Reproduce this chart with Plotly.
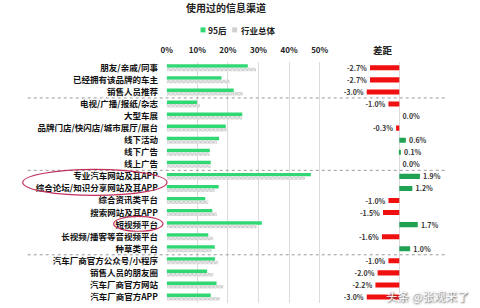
import plotly.graph_objects as go

categories = ["朋友/亲戚/同事", "已经拥有该品牌的车主", "销售人员推荐", "电视/广播/报纸/杂志",
              "大型车展", "品牌门店/快闪店/城市展厅/展台", "线下活动", "线下广告", "线上广告",
              "专业汽车网站及其APP", "综合论坛/知识分享网站及其APP", "综合资讯类平台",
              "搜索网站及其APP", "短视频平台", "长视频/播客等音视频平台", "种草类平台",
              "汽车厂商官方公众号/小程序", "销售人员的朋友圈", "汽车厂商官方网站", "汽车厂商官方APP"]
gen95 = [26.5, 17.9, 21.9, 9.9, 24.7, 19.3, 17.1, 14.1, 14.4, 47.1,
         17.0, 12.6, 14.9, 31.1, 13.6, 15.7, 15.8, 13.2, 16.3, 14.4]
overall = [29.2, 20.6, 24.9, 10.9, 24.7, 19.6, 16.5, 14.0, 14.4, 45.2,
           15.8, 13.6, 16.4, 29.4, 15.2, 14.7, 16.8, 15.2, 18.5, 17.4]
diff = [-2.7, -2.7, -3.0, -1.0, 0.0, -0.3, 0.6, 0.1, 0.0, 1.9,
        1.2, -1.0, -1.5, 1.7, -1.6, 1.0, -1.0, -2.0, -2.2, -3.0]
xticks = [0, 10, 20, 30, 40, 50]
separators = [2.5, 8.5, 15.5]
series_names = ["95后", "行业总体"]

W, H = 480, 308
FONT = "Noto Sans CJK SC"
rows = list(range(len(categories)))
GREEN = "#2fd873"
PAD = "\u00a0\u00a0"

def px(x):
    return x / W

def py(y):
    return 1 - y / H

fig = go.Figure()
fig.add_trace(go.Bar(
    y=rows, x=gen95, orientation="h", name=series_names[0], showlegend=False,
    marker=dict(color=GREEN, line=dict(width=0)),
    xaxis="x", yaxis="y"))
fig.add_trace(go.Bar(
    y=rows, x=overall, orientation="h", name=series_names[1], showlegend=False,
    marker=dict(color="#d4d4d4", line=dict(width=0),
                pattern=dict(shape="x", size=3, solidity=0.4, fgcolor="#9a9a9a", bgcolor="#e6e6e6")),
    xaxis="x", yaxis="y"))
fig.add_trace(go.Bar(
    y=rows, x=diff, orientation="h", showlegend=False, width=0.42,
    marker=dict(color=["#1fa352" if d > 0 else "#f01010" for d in diff], line=dict(width=0)),
    texttemplate=[("%{x:.1f}%" + PAD) if d < 0 else (PAD + "%{x:.1f}%") for d in diff],
    textposition="outside", cliponaxis=False, constraintext="none",
    textfont=dict(size=7, color="#333333", family=FONT, weight="bold"),
    xaxis="x2", yaxis="y2"))

ydom = [1 - 303.05 / H, 1 - 60.95 / H]

fig.update_layout(
    width=W, height=H, margin=dict(l=0, r=0, t=0, b=0),
    paper_bgcolor="white", plot_bgcolor="rgba(0,0,0,0)",
    barmode="group", bargap=0.42, bargroupgap=0,
    font=dict(family=FONT, size=8, color="#222222", weight="bold"),
    title=dict(text="使用过的信息渠道", x=px(226), xanchor="center", y=py(8), yanchor="middle",
               font=dict(size=10, family=FONT, weight="bold", color="#222222")),
    showlegend=False,
    xaxis=dict(domain=[px(162.7), px(333.2)], range=[0, 55], side="top",
               tickvals=xticks, ticktext=[f"{v}%" for v in xticks],
               showgrid=True, gridcolor="#dcdcdc", gridwidth=1, zeroline=False,
               showline=False, ticks="outside", ticklen=5, tickcolor="rgba(0,0,0,0)",
               tickfont=dict(size=8, family=FONT, weight="bold"), fixedrange=True),
    yaxis=dict(domain=ydom, range=[len(categories) - 0.5, -0.5], anchor="x",
               tickvals=rows, ticktext=categories, showgrid=False, zeroline=False,
               ticks="outside", ticklen=6, tickcolor="rgba(0,0,0,0)",
               tickfont=dict(size=8.5, family=FONT, weight="bold", color="#111111")),
    xaxis2=dict(domain=[px(330), px(447)], range=[-6.21, 4.43], anchor="y2",
                showgrid=False, zeroline=True, zerolinecolor="#dcdcdc", zerolinewidth=1,
                showticklabels=False, ticks=""),
    yaxis2=dict(domain=ydom, range=[len(categories) - 0.5, -0.5], anchor="x2",
                showticklabels=False, showgrid=False, zeroline=False, ticks=""),
)

shapes = []
for s in separators:
    shapes.append(dict(type="line", xref="paper", yref="y", x0=px(22), x1=px(445), y0=s, y1=s,
                       line=dict(color="#9a9a9a", width=1, dash="dot")))
# highlight ellipses
shapes.append(dict(type="circle", xref="paper", yref="paper",
                   x0=px(17), x1=px(163), y0=py(195), y1=py(169),
                   line=dict(color="#c2305b", width=1.2)))
shapes.append(dict(type="circle", xref="paper", yref="paper",
                   x0=px(109), x1=px(159), y0=py(231), y1=py(216),
                   line=dict(color="#c2305b", width=1.2)))
# legend swatches
shapes.append(dict(type="rect", xref="paper", yref="paper",
                   x0=px(197), x1=px(202), y0=py(31.5), y1=py(26.5),
                   fillcolor=GREEN, line=dict(width=0)))
shapes.append(dict(type="rect", xref="paper", yref="paper",
                   x0=px(229), x1=px(234), y0=py(31.5), y1=py(26.5),
                   fillcolor="#d0d0d0", line=dict(width=0)))
fig.update_layout(shapes=shapes)

fig.add_annotation(text=series_names[0], x=px(203), y=py(29), xref="paper", yref="paper",
                   xanchor="left", yanchor="middle", showarrow=False,
                   font=dict(size=8.5, family=FONT, weight="bold", color="#222222"))
fig.add_annotation(text=series_names[1], x=px(235.5), y=py(29), xref="paper", yref="paper",
                   xanchor="left", yanchor="middle", showarrow=False,
                   font=dict(size=8.5, family=FONT, weight="bold", color="#222222"))
fig.add_annotation(text="差距", x=px(394), y=py(40), xref="paper", yref="paper",
                   showarrow=False, font=dict(size=9.5, family=FONT, weight="bold", color="#222222"))
fig.add_annotation(text="头条 @张观来了", x=px(383), y=py(296), xref="paper", yref="paper",
                   xanchor="left", yanchor="middle", showarrow=False,
                   font=dict(size=11.5, family=FONT, color="white", weight="normal",
                             shadow="1px 1px 2px #444444"))

fig.write_html("out.html")
